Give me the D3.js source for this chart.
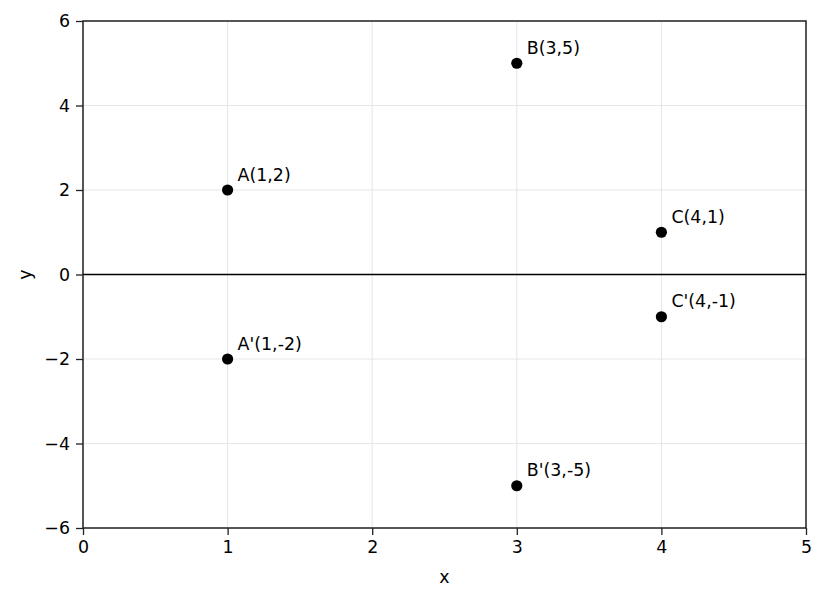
<!DOCTYPE html>
<html>
<head>
<meta charset="utf-8">
<script src="https://cdn.jsdelivr.net/npm/d3@7"></script>
<style>
  html, body { margin: 0; padding: 0; background: #fff; }
  svg { display: block; font-family: "DejaVu Sans", sans-serif; }
</style>
</head>
<body>
<svg id="chart" width="826" height="602"></svg>
<script>
const pointLabels = ["A(1,2)", "B(3,5)", "C(4,1)", "A'(1,-2)", "B'(3,-5)", "C'(4,-1)"];
const pointX = [1, 3, 4, 1, 3, 4];
const pointY = [2, 5, 1, -2, -5, -1];
const xTicks = [0, 1, 2, 3, 4, 5];
const yTicks = [-6, -4, -2, 0, 2, 4, 6];
const xDomain = [0, 5];
const yDomain = [-6, 6];

(function () {
const svg = d3.select("#chart");
const mL = 83, mR = 806, mT = 21, mB = 528;
const fs = "17.4px";
const x = d3.scaleLinear().domain(xDomain).range([mL, mR]);
const y = d3.scaleLinear().domain(yDomain).range([mB, mT]);
const fmt = d => (d < 0 ? "\u2212" + Math.abs(d) : String(d));

// grid
const grid = svg.append("g");
grid.selectAll("line.gx").data(xTicks).join("line")
  .attr("x1", d => x(d)).attr("x2", d => x(d))
  .attr("y1", mT).attr("y2", mB)
  .attr("stroke", "#e6e6e6").attr("stroke-width", 1);
grid.selectAll("line.gy").data(yTicks).join("line")
  .attr("y1", d => y(d)).attr("y2", d => y(d))
  .attr("x1", mL).attr("x2", mR)
  .attr("stroke", "#e6e6e6").attr("stroke-width", 1);

// zero line
svg.append("line")
  .attr("x1", mL).attr("x2", mR)
  .attr("y1", y(0)).attr("y2", y(0))
  .attr("stroke", "#000").attr("stroke-width", 1.5);

// axes
const xAxis = d3.axisBottom(x).tickValues(xTicks).tickFormat(fmt).tickSizeInner(7).tickSizeOuter(0).tickPadding(6);
const yAxis = d3.axisLeft(y).tickValues(yTicks).tickFormat(fmt).tickSizeInner(7).tickSizeOuter(0).tickPadding(6);
const gx = svg.append("g").attr("transform", `translate(0,${mB})`).call(xAxis);
const gy = svg.append("g").attr("transform", `translate(${mL},0)`).call(yAxis);
[gx, gy].forEach(g => {
  g.select(".domain").remove();
  g.selectAll(".tick line").attr("stroke", "#222").attr("stroke-width", 1.3);
  g.selectAll(".tick text").attr("fill", "#000").style("font-size", fs).style("font-family", "DejaVu Sans, sans-serif");
});

// frame
svg.append("rect")
  .attr("x", mL).attr("y", mT)
  .attr("width", mR - mL).attr("height", mB - mT)
  .attr("fill", "none").attr("stroke", "#222").attr("stroke-width", 1.5);

// points
const data = pointLabels.map((l, i) => ({ label: l, x: pointX[i], y: pointY[i] }));
svg.selectAll("circle.pt").data(data).join("circle")
  .attr("cx", d => x(d.x)).attr("cy", d => y(d.y)).attr("r", 5.6)
  .attr("fill", "#000");
svg.selectAll("text.lbl").data(data).join("text")
  .attr("x", d => x(d.x) + 10).attr("y", d => y(d.y) - 9.5)
  .style("font-size", fs).attr("fill", "#000")
  .text(d => d.label);

// axis labels
svg.append("text").attr("x", (mL + mR) / 2).attr("y", 583)
  .attr("text-anchor", "middle").style("font-size", fs).text("x");
svg.append("text").attr("transform", `translate(31,${(mT + mB) / 2}) rotate(-90)`)
  .attr("text-anchor", "middle").style("font-size", fs).text("y");
})();
</script>
</body>
</html>
